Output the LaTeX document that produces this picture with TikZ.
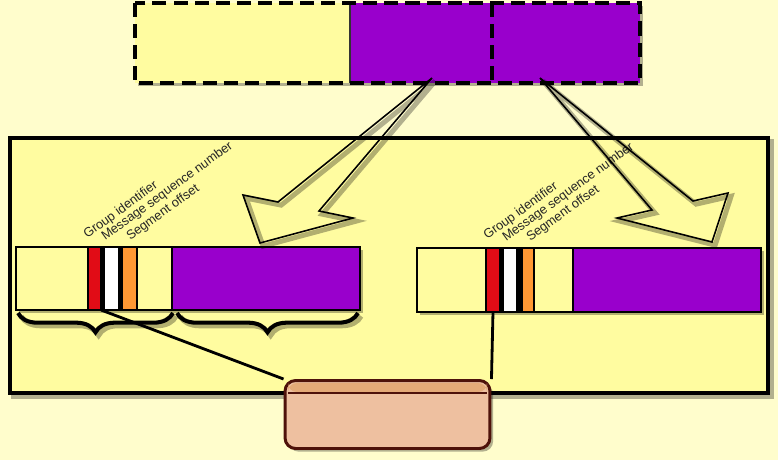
\documentclass[tikz,border=0pt]{standalone}
\usepackage{xcolor}
\usepackage{fontspec}
\setmainfont{Liberation Sans}
\usepackage{tikz}
\usetikzlibrary{decorations.pathreplacing}

\definecolor{cream}{RGB}{255,253,204}
\definecolor{pale}{RGB}{255,252,160}
\definecolor{pktpurple}{RGB}{153,0,204}
\definecolor{pktred}{RGB}{225,12,22}
\definecolor{pktorange}{RGB}{255,152,52}
\definecolor{boxfill}{RGB}{238,192,160}
\definecolor{boxband}{RGB}{228,170,120}
\definecolor{boxedge}{RGB}{78,18,10}

\tikzset{
  shd/.style={preaction={draw=black, opacity=0.3, line width=2.8pt,
      transform canvas={shift={(1.8pt,-1.8pt)}}}},
  shdfill/.style={preaction={fill=black, opacity=0.3,
      transform canvas={shift={(1.8pt,-1.8pt)}}}},
  seg/.style={draw=black, line width=0.7pt},
  bar/.style={draw=black, line width=0.7pt, anchor=north west,
      inner sep=0pt, outer sep=0pt, minimum height=1.26cm},
  lbl/.style={rotate=36, anchor=base west, inner sep=0pt,
      font=\fontsize{7.3}{8}\selectfont, text=black!85},
  brc/.style={decorate, decoration={brace, mirror, amplitude=11pt},
      line width=2.3pt, shd},
  hollow/.style={draw=black, line width=0.9pt, line join=miter, shd},
  link/.style={draw=black, line width=1.6pt},
  ctrl/.style={draw=boxedge, fill=boxfill, line width=1.7pt,
      rounded corners=6pt, minimum width=4.1cm, minimum height=1.36cm,
      inner sep=0pt, shdfill},
  dash line/.style={draw=black, line width=2pt, dash pattern=on 8pt off 4pt},
}

\begin{document}
\begin{tikzpicture}[x=0.02cm, y=-0.02cm]
    \useasboundingbox (0,0) rectangle (778,460);
    \fill[cream] (0,0) rectangle (778,460);

    % Source message
    \fill[black, opacity=0.3] (138,6) rectangle (643,86);
    \fill[pale] (135,3) rectangle (350,83);
    \fill[pktpurple] (350,3) rectangle (640,83);
    \draw[black!80, line width=0.6pt] (350,3) -- (350,83);
    \draw[dash line] (492,3) -- (492,83);
    \draw[dash line] (135,3) rectangle (640,83);
    \coordinate (srcA) at (432,78);
    \coordinate (srcB) at (540,78);

    % Frame
    \draw[fill=pale, line width=2.2pt, shd] (10,138) rectangle (768,393);

    % Left segment
    \fill[black, shdfill] (16,247) rectangle (360,310);
    \draw[seg, fill=pale] (16,247) rectangle (88,310);
    \node[bar, fill=pktred, minimum width=0.26cm] (redL) at (88,247) {};
    \node[bar, fill=white, minimum width=0.3cm] (whiteL) at (104,247) {};
    \node[bar, fill=pktorange, minimum width=0.3cm] (orangeL) at (122,247) {};
    \draw[seg, fill=pale] (137,247) rectangle (172,310);
    \draw[seg, fill=pktpurple] (172,247) rectangle (360,310);
    \draw[line width=1.6pt] (16,247) rectangle (360,310);

    % Right segment
    \fill[black, shdfill] (417,248) rectangle (761,312);
    \draw[seg, fill=pale] (417,248) rectangle (486,312);
    \node[bar, fill=pktred, minimum width=0.28cm, minimum height=1.28cm] (redR) at (486,248) {};
    \node[bar, fill=white, minimum width=0.28cm, minimum height=1.28cm] (whiteR) at (503,248) {};
    \node[bar, fill=pktorange, minimum width=0.24cm, minimum height=1.28cm] (orangeR) at (522,248) {};
    \draw[seg, fill=pale] (534,248) rectangle (573,312);
    \draw[seg, fill=pktpurple] (573,248) rectangle (761,312);
    \draw[line width=1.6pt] (417,248) rectangle (761,312);

    % Braces
    \draw[brc] (18,313) -- (173,313);
    \draw[brc] (177,313) -- (358,313);

    % Header labels
    \node[lbl] (gidL) at (87,239) {Group identifier};
    \node[lbl] (msnL) at (105,241) {Message sequence number};
    \node[lbl] (sofL) at (130,241) {Segment offset};
    \node[lbl] (gidR) at (487,240) {Group identifier};
    \node[lbl] (msnR) at (506,242) {Message sequence number};
    \node[lbl] (sofR) at (530,242) {Segment offset};

    % Fragment arrows
    \draw[hollow] (srcA) -- (278,202) -- (243,195) -- (260,243)
        -- (353,218) -- (319,211) -- cycle;
    \draw[hollow] (srcB) -- (652,210) -- (617,218) -- (712,242)
        -- (728,193) -- (693,201) -- cycle;

    % Bottom box
    \node[ctrl] (ctrlbox) at (387.5,414.5) {};
    \fill[boxband, rounded corners=5pt] (288,383) -- (487,383) -- (487,392) -- (288,392) -- cycle;
    \draw[boxedge, line width=1.4pt] (288,393) -- (487,393);
    \draw[link] (redL.south east) -- (ctrlbox.north west);
    \draw[link] (redR.south) -- (ctrlbox.north east);
\end{tikzpicture}
\end{document}
